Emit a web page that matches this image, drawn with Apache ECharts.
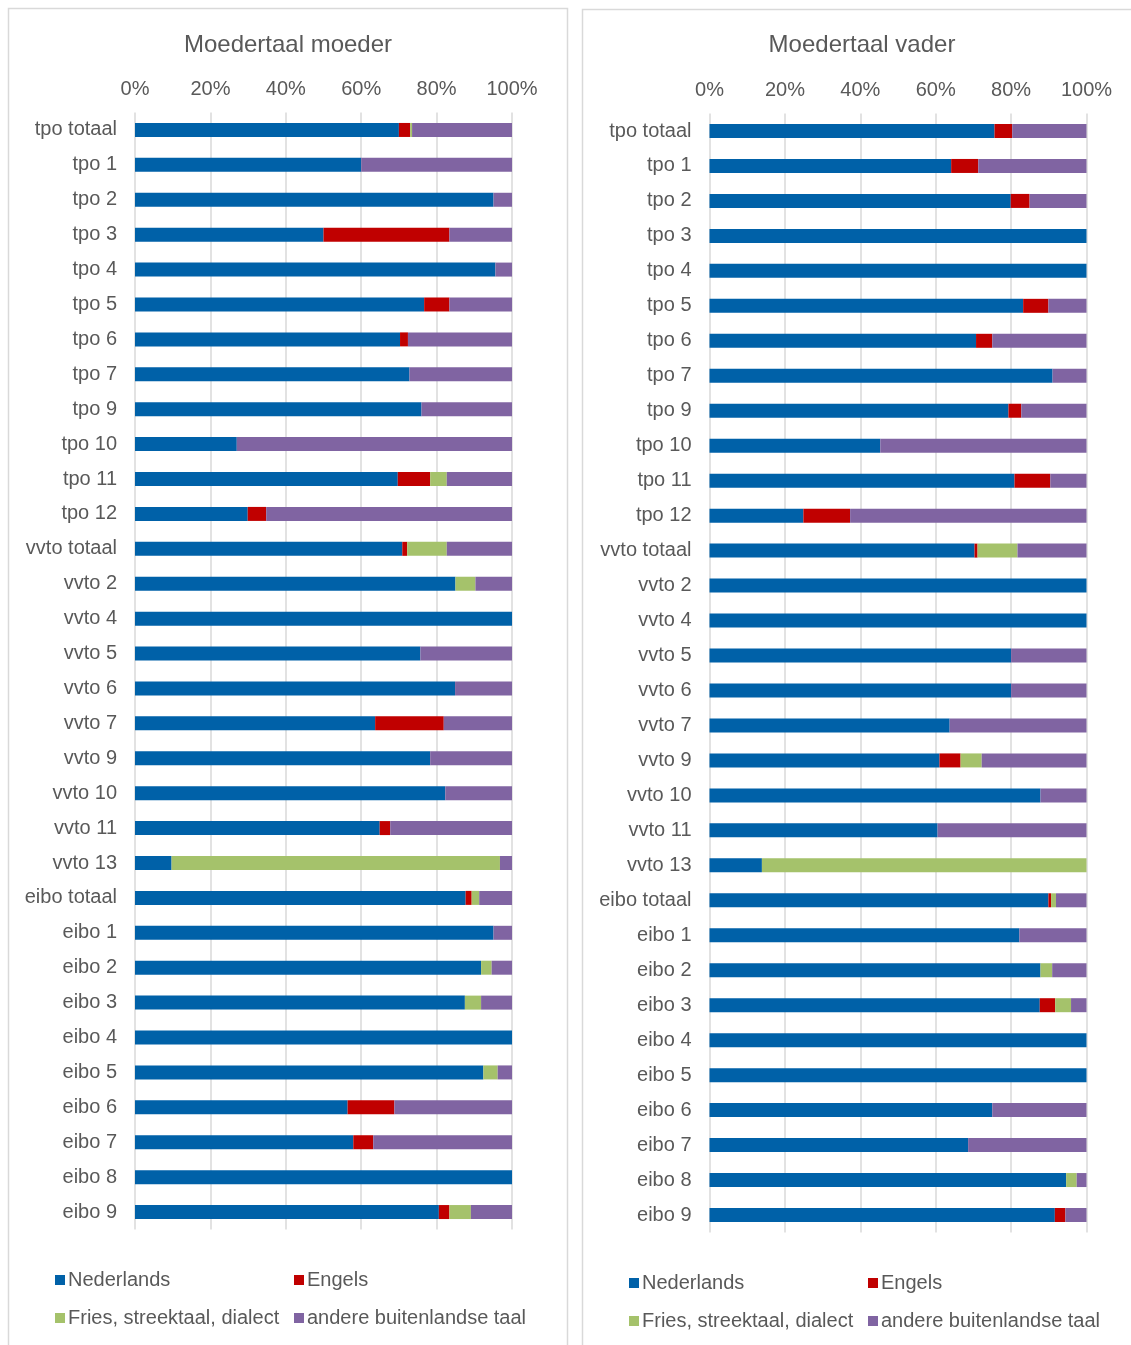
<!DOCTYPE html>
<html>
<head>
<meta charset="utf-8">
<script src="https://cdn.jsdelivr.net/npm/echarts@6/dist/echarts.min.js"></script>
<style>
  html, body { margin: 0; padding: 0; background: #fff; }
  #chart { width: 1131px; height: 1345px; }
</style>
</head>
<body>
<div id="chart"></div>
<script>
// categorieën (van boven naar onder)
const categories = [
  'tpo totaal', 'tpo 1', 'tpo 2', 'tpo 3', 'tpo 4', 'tpo 5', 'tpo 6', 'tpo 7', 'tpo 9', 'tpo 10', 'tpo 11', 'tpo 12',
  'vvto totaal', 'vvto 2', 'vvto 4', 'vvto 5', 'vvto 6', 'vvto 7', 'vvto 9', 'vvto 10', 'vvto 11', 'vvto 13',
  'eibo totaal', 'eibo 1', 'eibo 2', 'eibo 3', 'eibo 4', 'eibo 5', 'eibo 6', 'eibo 7', 'eibo 8', 'eibo 9'
]
const seriesNames = ['Nederlands', 'Engels', 'Fries, streektaal, dialect', 'andere buitenlandse taal']
const tickLabels = ['0%', '20%', '40%', '60%', '80%', '100%']

// moedertaal moeder (%)
const moederNederlands = [70, 60, 95.1, 50, 95.6, 76.7, 70.3, 72.8, 76, 27, 69.7, 29.9,
  70.9, 85, 100, 75.7, 84.9, 63.7, 78.3, 82.3, 64.9, 9.7,
  87.7, 95.1, 91.8, 87.5, 100, 92.4, 56.4, 57.9, 100, 80.6]
const moederEngels = [3, 0, 0, 33.4, 0, 6.7, 2.1, 0, 0, 0, 8.6, 4.9,
  1.3, 0, 0, 0, 0, 18.2, 0, 0, 2.8, 0,
  1.6, 0, 0, 0, 0, 0, 12.4, 5.3, 0, 2.8]
const moederFries = [0.5, 0, 0, 0, 0, 0, 0, 0, 0, 0, 4.4, 0,
  10.5, 5.3, 0, 0, 0, 0, 0, 0, 0, 87.1,
  2.0, 0, 2.8, 4.3, 0, 3.8, 0, 0, 0, 5.7]
const moederAndere = [26.5, 40, 4.9, 16.6, 4.4, 16.6, 27.6, 27.2, 24, 73, 17.3, 65.2,
  17.3, 9.7, 0, 24.3, 15.1, 18.1, 21.7, 17.7, 32.3, 3.2,
  8.7, 4.9, 5.4, 8.2, 0, 3.8, 31.2, 36.8, 0, 10.9]

// moedertaal vader (%)
const vaderNederlands = [75.6, 64.1, 79.9, 100, 100, 83.2, 70.7, 91, 79.3, 45.3, 80.9, 24.9,
  70.3, 100, 100, 80, 80, 63.7, 61, 87.8, 60.5, 13.9,
  89.9, 82.2, 87.8, 87.6, 100, 100, 75, 68.6, 94.6, 91.6]
const vaderEngels = [4.7, 7.2, 5, 0, 0, 6.7, 4.3, 0, 3.4, 0, 9.5, 12.4,
  0.8, 0, 0, 0, 0, 0, 5.6, 0, 0, 0,
  0.7, 0, 0, 4.1, 0, 0, 0, 0, 0, 2.8]
const vaderFries = [0, 0, 0, 0, 0, 0, 0, 0, 0, 0, 0, 0,
  10.6, 0, 0, 0, 0, 0, 5.6, 0, 0, 86.1,
  1.3, 0, 3.1, 4.2, 0, 0, 0, 0, 2.8, 0]
const vaderAndere = [19.7, 28.7, 15.1, 0, 0, 10.1, 25, 9, 17.3, 54.7, 9.6, 62.7,
  18.3, 0, 0, 20, 20, 36.3, 27.8, 12.2, 39.5, 0,
  8.1, 17.8, 9.1, 4.1, 0, 0, 25, 31.4, 2.6, 5.6]

const colors = ['#0061a8', '#c00000', '#a5c26b', '#8064a2']
const font = '"Liberation Sans", Arial, sans-serif'
const textGrey = '#595959'
const gridGrey = '#d9d9d9'

function xAxisFor(gridIndex) {
  return {
    gridIndex: gridIndex,
    type: 'value',
    position: 'top',
    min: 0,
    max: 100,
    interval: 20,
    axisLine: { show: false },
    axisTick: { show: false },
    splitLine: { lineStyle: { color: gridGrey, width: 1.5 } },
    axisLabel: {
      color: textGrey,
      fontFamily: font,
      fontSize: 20,
      margin: 13,
      formatter: (v) => tickLabels[v / 20]
    }
  }
}

function yAxisFor(gridIndex) {
  return {
    gridIndex: gridIndex,
    type: 'category',
    inverse: true,
    data: categories,
    axisLine: { show: false },
    axisTick: { show: false },
    axisLabel: { color: textGrey, fontFamily: font, fontSize: 20, margin: 18 }
  }
}

function barsFor(idx, lists) {
  return lists.map((values, i) => ({
    name: seriesNames[i],
    type: 'bar',
    stack: 'panel' + idx,
    xAxisIndex: idx,
    yAxisIndex: idx,
    barWidth: 14,
    itemStyle: { color: colors[i] },
    emphasis: { disabled: true },
    data: values
  }))
}

function legendAt(name, left, top) {
  return {
    data: [name],
    left: left,
    top: top,
    padding: 0,
    icon: 'rect',
    itemWidth: 10,
    itemHeight: 10,
    selectedMode: false,
    textStyle: { color: textGrey, fontFamily: font, fontSize: 20, padding: [0, 0, 0, -2] }
  }
}

const chart = echarts.init(document.getElementById('chart'), null, { renderer: 'canvas' })

chart.setOption({
  animation: false,
  color: colors,
  graphic: [
    { type: 'rect', shape: { x: 8.5, y: 8.5, width: 559, height: 1360 }, style: { fill: 'none', stroke: gridGrey, lineWidth: 1.5 }, silent: true },
    { type: 'rect', shape: { x: 582.5, y: 9.5, width: 570, height: 1360 }, style: { fill: 'none', stroke: gridGrey, lineWidth: 1.5 }, silent: true }
  ],
  title: [
    { text: 'Moedertaal moeder', left: 288, top: 33, textAlign: 'center', padding: 0,
      textStyle: { color: textGrey, fontFamily: font, fontSize: 24, fontWeight: 'normal' } },
    { text: 'Moedertaal vader', left: 862, top: 33, textAlign: 'center', padding: 0,
      textStyle: { color: textGrey, fontFamily: font, fontSize: 24, fontWeight: 'normal' } }
  ],
  legend: [
    legendAt(seriesNames[0], 55, 1270),
    legendAt(seriesNames[1], 294, 1270),
    legendAt(seriesNames[2], 55, 1308),
    legendAt(seriesNames[3], 294, 1308),
    legendAt(seriesNames[0], 629, 1273),
    legendAt(seriesNames[1], 868, 1273),
    legendAt(seriesNames[2], 629, 1311),
    legendAt(seriesNames[3], 868, 1311)
  ],
  grid: [
    { left: 135, width: 377, top: 112.5, height: 1117 },
    { left: 709.5, width: 377, top: 113.5, height: 1119 }
  ],
  xAxis: [xAxisFor(0), xAxisFor(1)],
  yAxis: [yAxisFor(0), yAxisFor(1)],
  series: [
    ...barsFor(0, [moederNederlands, moederEngels, moederFries, moederAndere]),
    ...barsFor(1, [vaderNederlands, vaderEngels, vaderFries, vaderAndere])
  ]
})
</script>
</body>
</html>
